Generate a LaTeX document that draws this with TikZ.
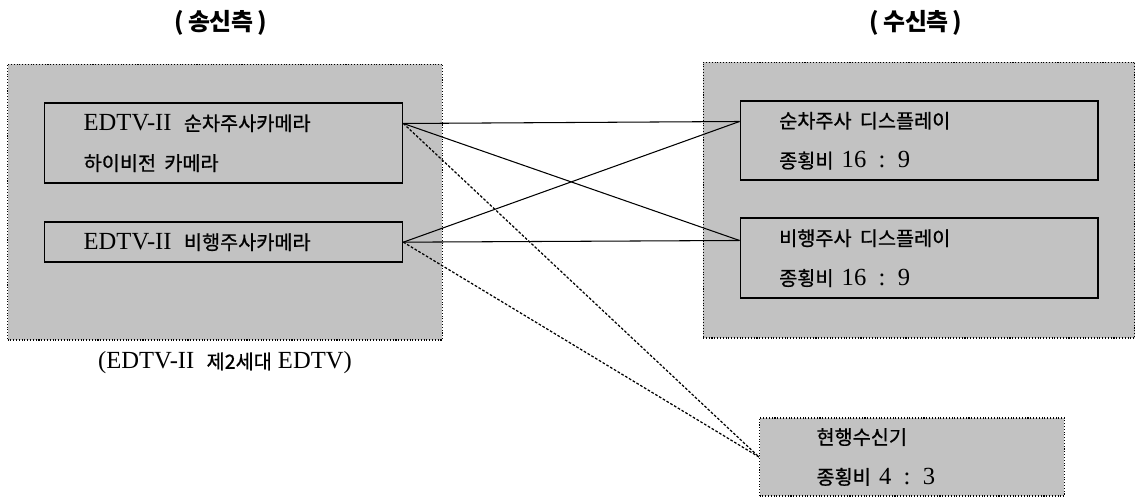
\documentclass[tikz,border=0pt]{standalone}
\usepackage{fontspec}
\setmainfont{Liberation Serif}
\newfontfamily\kr{Noto Sans CJK KR}[Scale=0.8, FakeBold=0.8]
\newfontfamily\krtitle{Noto Sans CJK KR}[Scale=0.8]
\usepackage{tikz}
\usetikzlibrary{positioning}
\definecolor{scangray}{gray}{0.76}
\tikzset{
  panelbox/.style={
    rectangle,
    draw=black,
    line width=0.6pt,
    densely dotted,
    fill=scangray,
    minimum width=8.7cm,
    minimum height=5.52cm,
  },
  unitbox/.style={
    rectangle,
    draw=black,
    line width=0.8pt,
    fill=scangray,
    align=left,
    anchor=north west,
    inner xsep=0.78cm,
    inner ysep=0pt,
    text width=5.6cm,
    minimum width=7.16cm,
    font=\fontsize{14}{22.7}\selectfont,
  },
  recvbox/.style={
    rectangle,
    draw=black,
    line width=0.6pt,
    densely dotted,
    fill=scangray,
    align=left,
    inner xsep=1.14cm,
    inner ysep=0pt,
    text width=3.82cm,
    minimum height=1.56cm,
    font=\fontsize{14}{22.7}\selectfont,
  },
  sidetitle/.style={
    font=\fontsize{17}{20}\selectfont\krtitle\bfseries,
  },
  link/.style={
    line width=0.6pt
  },
  hintlink/.style={
    line width=0.7pt,
    dash pattern=on 1.5pt off 1pt
  }
}

\begin{document}
\begin{tikzpicture}[x=0.02cm, y=-0.02cm]
  \useasboundingbox (0,0) rectangle (1140,498);

  % Side titles
  \node [sidetitle] (sendttl) at (221,23) {(\,송신측\,)};
  \node [sidetitle] (recvttl) at (916,23) {(\,수신측\,)};

  % Transmitter side
  \node [panelbox] (lpanel) at (225,202) {};
  \node [unitbox, minimum height=1.6cm] (cam1)
        at ([xshift=0.74cm, yshift=-0.78cm]lpanel.north west)
        {EDTV-II\enspace{\kr 순차주사카메라}\\ {\kr 하이비전 카메라}};
  \node [unitbox, minimum height=0.8cm] (cam2)
        at ([xshift=0.74cm, yshift=-3.16cm]lpanel.north west)
        {EDTV-II\enspace{\kr 비행주사카메라}};
  \node [below=0.1cm of lpanel, font=\fontsize{14}{17}\selectfont] (gen2)
        {(EDTV-II\enspace{\kr 제2세대} EDTV)};

  % Receiver side
  \node [panelbox, minimum width=8.64cm] (rpanel) at (919,200) {};
  \node [unitbox, minimum height=1.58cm] (disp1)
        at ([xshift=0.74cm, yshift=-0.78cm]rpanel.north west)
        {{\kr 순차주사 디스플레이}\\ {\kr 종횡비} 16\enspace:\enspace9};
  \node [unitbox, minimum height=1.6cm] (disp2)
        at ([xshift=0.74cm, yshift=-3.12cm]rpanel.north west)
        {{\kr 비행주사 디스플레이}\\ {\kr 종횡비} 16\enspace:\enspace9};

  % Existing receiver
  \node [recvbox, minimum width=6.1cm] (recv) at (912,457)
        {{\kr 현행수신기}\\ {\kr 종횡비} 4\enspace:\enspace3};

  % Connection points
  \coordinate (cam1R)  at ([yshift=-0.42cm]cam1.north east);
  \coordinate (disp1L) at ([yshift=-0.42cm]disp1.north west);
  \coordinate (disp2L) at ([yshift=-0.46cm]disp2.north west);

  % Cross links
  \draw [link] (cam1R) -- (disp1L);
  \draw [link] (cam1R) -- (disp2L);
  \draw [link] (cam2.east) -- (disp1L);
  \draw [link] (cam2.east) -- (disp2L);

  % Compatible reception
  \draw [hintlink] (cam1R) -- (recv.west);
  \draw [hintlink] (cam2.east) -- (recv.west);
\end{tikzpicture}
\end{document}
